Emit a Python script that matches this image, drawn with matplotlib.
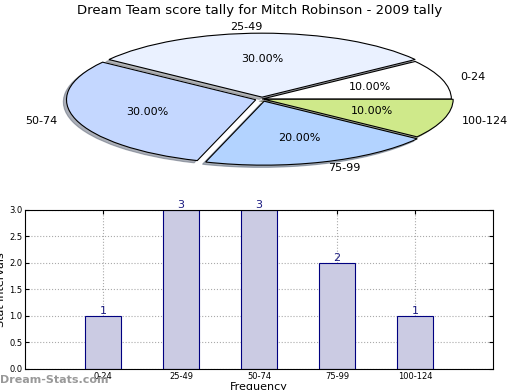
import matplotlib
matplotlib.use("Agg")
import matplotlib.pyplot as plt

# data
categories = ["0-24", "25-49", "50-74", "75-99", "100-124"]
counts = [1, 3, 3, 2, 1]
pie_colors = ["#ffffff", "#eaf1ff", "#c4d7ff", "#b3d3ff", "#cfe98a"]
explode = [0.0, 0.03, 0.035, 0.035, 0.01]

fig = plt.figure(figsize=(5.2, 3.9), dpi=100)

# pie on top (stretched, not circular)
ax1 = fig.add_axes([0.049, 0.541, 0.91, 0.41])
ax1.pie(counts, labels=categories, colors=pie_colors, explode=explode,
        autopct="%.2f%%", startangle=0,
        shadow={"ox": -0.012, "oy": -0.025, "shade": 0.55},
        wedgeprops={"edgecolor": "black", "linewidth": 0.8},
        textprops={"fontsize": 8})
ax1.set_aspect("auto")
ax1.set_xlim(-1.25, 1.25)
ax1.set_ylim(-1.25, 1.25)
fig.text(0.5, 0.972, "Dream Team score tally for Mitch Robinson - 2009 tally",
         ha="center", va="center", fontsize=9.5)

# bar chart below
ax2 = fig.add_axes([0.048, 0.054, 0.9, 0.408])
xpos = list(range(1, len(categories) + 1))
bars = ax2.bar(xpos, counts, width=0.46, color="#cbcbe3", edgecolor="#000080",
               linewidth=0.8, zorder=2)
for b, c in zip(bars, counts):
    ax2.text(b.get_x() + b.get_width() / 2, c, str(c), ha="center", va="bottom",
             fontsize=8, color="#1a1a80", zorder=3)
ax2.set_xlim(0, 6)
ax2.set_ylim(0, 3)
ax2.set_xticks(xpos)
ax2.set_xticklabels(categories)
ax2.set_yticks([0, 0.5, 1, 1.5, 2, 2.5, 3])
ax2.tick_params(labelsize=6, direction="in", top=True, right=True, length=3, pad=2)
ax2.grid(True, linestyle=":", color="#aaaaaa", linewidth=0.8, zorder=0)
ax2.set_ylabel("Stat intervals", fontsize=8, labelpad=2)
ax2.set_xlabel("Frequency", fontsize=8, labelpad=1)

fig.text(0.0, 0.025, "Dream-Stats.com", fontsize=8, color="#999999",
         fontweight="bold", ha="left", va="center")

fig.savefig("out.png", dpi=100)
